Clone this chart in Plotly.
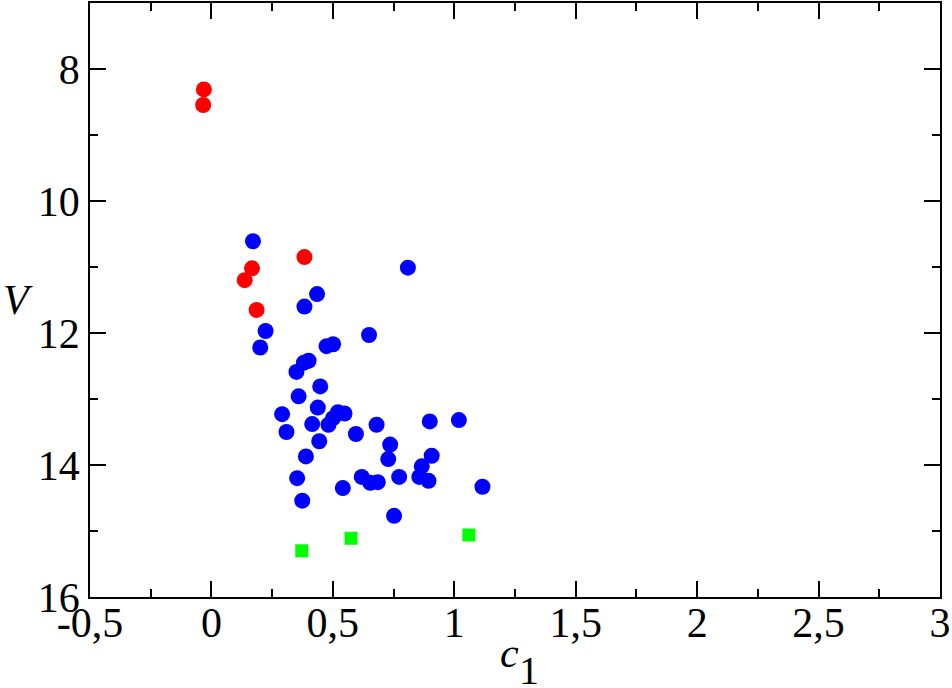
import plotly.graph_objects as go

# Red circles
red_c1 = [-0.031, -0.034, 0.383, 0.167, 0.137, 0.186]
red_V = [8.31, 8.545, 10.85, 11.02, 11.20, 11.65]

# Blue circles
blue_c1 = [0.171, 0.809, 0.435, 0.383, 0.223, 0.649, 0.201, 0.474, 0.501,
           0.400, 0.381, 0.350, 0.448, 0.359, 0.438, 0.291, 0.521, 0.548,
           0.501, 0.482, 0.415, 0.309, 0.595, 0.680, 0.444, 0.899, 1.019,
           0.736, 0.728, 0.907, 0.389, 0.866, 0.353, 0.619, 0.654, 0.685,
           0.773, 0.856, 0.894, 0.541, 1.116, 0.374, 0.752]
blue_V = [10.61, 11.01, 11.41, 11.60, 11.97, 12.03, 12.22, 12.20, 12.17,
          12.42, 12.45, 12.59, 12.81, 12.96, 13.13, 13.23, 13.20, 13.22,
          13.29, 13.39, 13.38, 13.50, 13.53, 13.39, 13.64, 13.34, 13.32,
          13.69, 13.91, 13.86, 13.87, 14.02, 14.20, 14.18, 14.27, 14.26,
          14.18, 14.18, 14.24, 14.35, 14.33, 14.54, 14.77]

# Green squares
green_c1 = [0.372, 0.575, 1.060]
green_V = [15.30, 15.11, 15.06]

x_tickvals = [-0.5, 0, 0.5, 1, 1.5, 2, 2.5, 3]
x_ticktext = ["-0,5", "0", "0,5", "1", "1,5", "2", "2,5", "3"]
y_tickvals = [8, 10, 12, 14, 16]
y_ticktext = ["8", "10", "12", "14", "16"]

FONT = "Liberation Serif"

fig = go.Figure()
fig.add_trace(go.Scatter(x=blue_c1, y=blue_V, mode="markers",
                         marker=dict(color="#0000ff", size=16, symbol="circle",
                                     line=dict(width=0))))
fig.add_trace(go.Scatter(x=red_c1, y=red_V, mode="markers",
                         marker=dict(color="#ff0000", size=16, symbol="circle",
                                     line=dict(width=0))))
fig.add_trace(go.Scatter(x=green_c1, y=green_V, mode="markers",
                         marker=dict(color="#00ff00", size=13, symbol="square",
                                     line=dict(width=0))))

axis_common = dict(showgrid=False, zeroline=False, showline=True,
                   linecolor="black", linewidth=1.5, mirror="allticks",
                   ticks="inside", ticklen=16, tickwidth=1.5, tickcolor="black",
                   automargin=False,
                   tickfont=dict(family=FONT, size=42, color="black"))

fig.update_xaxes(range=[-0.5, 3], tickvals=x_tickvals, ticktext=x_ticktext,
                 minor=dict(ticks="inside", ticklen=8, tickwidth=1.5,
                            tickcolor="black", dtick=0.25, tick0=0),
                 ticklabelstandoff=-12,
                 **axis_common)
fig.update_yaxes(range=[16, 7], tickvals=y_tickvals, ticktext=y_ticktext,
                 minor=dict(ticks="inside", ticklen=8, tickwidth=1.5,
                            tickcolor="black", dtick=1, tick0=0),
                 **axis_common)

fig.add_annotation(text="<i>V</i>", xref="paper", yref="paper", x=0, y=0.5,
                   xanchor="center", yanchor="middle", xshift=-72, showarrow=False,
                   font=dict(family=FONT, size=42, color="black"))
fig.add_annotation(text="<i>c</i>", xref="paper", yref="paper",
                   x=0.494, y=0, xanchor="center", yanchor="top", yshift=-31,
                   showarrow=False, font=dict(family=FONT, size=42, color="black"))
fig.add_annotation(text="1", xref="paper", yref="paper",
                   x=0.516, y=0, xanchor="center", yanchor="top", yshift=-49,
                   showarrow=False, font=dict(family=FONT, size=40, color="black"))

fig.update_layout(width=952, height=688, showlegend=False,
                  paper_bgcolor="white", plot_bgcolor="white",
                  margin=dict(l=90, r=12, t=3, b=91))

fig.write_html("out.html", config={"displayModeBar": False},
               post_script="document.body.style.margin='0px';document.body.style.padding='0px';")
